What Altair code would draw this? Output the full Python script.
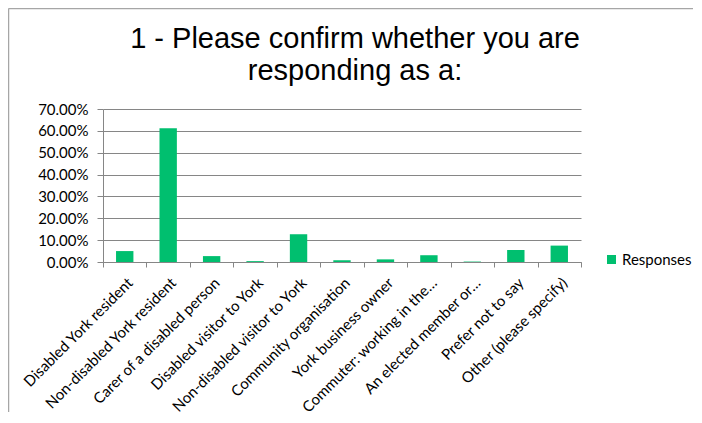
import altair as alt
import pandas as pd

categories = [
    "Disabled York resident",
    "Non-disabled York resident",
    "Carer of a disabled person",
    "Disabled visitor to York",
    "Non-disabled visitor to York",
    "Community organisation",
    "York business owner",
    "Commuter: working in the…",
    "An elected member or…",
    "Prefer not to say",
    "Other (please specify)",
]
responses = [0.050, 0.612, 0.027, 0.004, 0.127, 0.008, 0.012, 0.031, 0.002, 0.055, 0.075]
series = ["Responses"] * len(categories)
y_ticks = [0.0, 0.1, 0.2, 0.3, 0.4, 0.5, 0.6, 0.7]
title_lines = ["1 - Please confirm whether you are", "responding as a:"]

df = pd.DataFrame({"category": categories, "value": responses, "series": series})

GREEN = "#00BF6F"
GRAY = "#868686"
BORDER = "#A6A6A6"
FONT = "Lato"

bars = alt.Chart(df).mark_bar(width=alt.RelativeBandSize(0.4), color=GREEN).encode(
    x=alt.X(
        "category:N",
        sort=None,
        scale=alt.Scale(paddingInner=0, paddingOuter=0),
        axis=alt.Axis(
            title=None,
            labelAngle=-45,
            labelAlign="right",
            labelBaseline="top",
            tickBand="extent",
            tickSize=5,
            tickColor=GRAY,
            domainColor=GRAY,
            labelPadding=8,
            labelFont=FONT,
            labelFontSize=15,
            labelColor="#000000",
            grid=False,
            labelOverlap=False,
            labelLimit=300,
        ),
    ),
    y=alt.Y(
        "value:Q",
        scale=alt.Scale(domain=[0, 0.7], nice=False),
        axis=alt.Axis(
            title=None,
            values=y_ticks,
            format=".2%",
            grid=True,
            gridColor=GRAY,
            domainColor=GRAY,
            tickColor=GRAY,
            tickSize=6,
            labelPadding=9,
            labelFont=FONT,
            labelFontSize=15,
            labelColor="#000000",
        ),
    ),
    color=alt.Color(
        "series:N",
        scale=alt.Scale(range=[GREEN]),
        legend=alt.Legend(
            title=None,
            orient="none",
            legendX=501,
            legendY=143,
            symbolType="square",
            symbolSize=81,
            symbolStrokeWidth=0,
            labelOffset=3,
            labelFont=FONT,
            labelFontSize=15,
            labelColor="#000000",
            padding=0,
        ),
    ),
)

one = alt.Data(values=[{"k": 1}])

border_top = alt.Chart(one).mark_rule(color=BORDER, strokeWidth=1.5).encode(
    x=alt.value(-94.5), x2=alt.value(700), y=alt.value(-100.5)
)
border_left = alt.Chart(one).mark_rule(color=BORDER, strokeWidth=1.5).encode(
    x=alt.value(-94.5), y=alt.value(-100.5), y2=alt.value(400)
)

title = alt.Chart(one).mark_text(
    font="Liberation Sans",
    fontSize=29,
    color="#000000",
    align="center",
    baseline="alphabetic",
    lineHeight=32,
).encode(
    x=alt.value(252),
    y=alt.value(-61.5),
    text=alt.value(title_lines),
)

chart = alt.layer(border_top, border_left, title, bars).properties(
    width=478,
    height=153,
    padding={"left": 95, "top": 101, "right": 112, "bottom": 150},
    autosize=alt.AutoSizeParams(type="none"),
).configure_view(stroke="transparent")

chart.save("out.html", embed_options={"renderer": "svg", "actions": False})
